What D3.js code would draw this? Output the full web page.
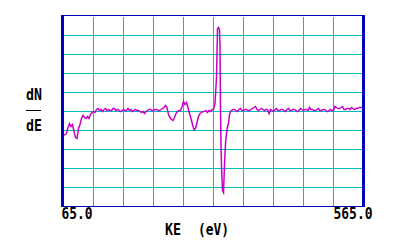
<!DOCTYPE html>
<html>
<head>
<meta charset="utf-8">
<script src="https://cdn.jsdelivr.net/npm/d3@7"></script>
<style>
  body { margin: 0; background: #fff; }
  svg { display: block; }
  text { font-family: "DejaVu Sans Mono", monospace; font-weight: bold; fill: #000; }
</style>
</head>
<body>
<svg id="chart"></svg>
<script>
const width = 400
const height = 240

// kinetic energy (eV) and dN/dE signal (arbitrary units)
const energy = [
  65, 67.5, 70, 72.5, 75, 77.5, 80, 82.5, 85, 87.5, 90, 92.5, 95, 97.5, 100, 102.5,
  105, 107.5, 110, 112.5, 115, 117.5, 120, 122.5, 125, 127.5, 130, 132.5, 135, 137.5,
  140, 142.5, 145, 147.5, 150, 152.5, 155, 157.5, 160, 162.5, 165, 167.5, 170, 172.5,
  175, 177.5, 180, 182.5, 185, 187.5, 190, 192.5, 195, 197.5, 200, 202.5, 205, 207.5,
  210, 212.5, 215, 217.5, 220, 222.5, 225, 227.5, 230, 232.5, 235, 237.5, 240, 242.5,
  245, 247.5, 250, 252.5, 255, 257.5, 260, 262.5, 265, 267.5, 270, 272.5, 275, 277.5,
  280, 282.5, 285, 287.5, 290, 292.5, 295, 297.5, 300, 302.5, 305, 307.5, 310, 312.5,
  315, 317.5, 320, 321.7, 323.3, 325, 325.8, 326.7, 327.5, 328.3, 330, 331.7, 333.3,
  335, 336.7, 338.3, 340, 341.7, 343.3, 345, 347.5, 350, 352.5, 355, 357.5, 360, 362.5,
  365, 367.5, 370, 372.5, 375, 377.5, 380, 382.5, 385, 387.5, 390, 392.5, 395, 397.5,
  400, 402.5, 405, 407.5, 410, 412.5, 415, 417.5, 420, 422.5, 425, 427.5, 430, 432.5,
  435, 437.5, 440, 442.5, 445, 447.5, 450, 452.5, 455, 457.5, 460, 462.5, 465, 467.5,
  470, 472.5, 475, 477.5, 480, 482.5, 485, 487.5, 490, 492.5, 495, 497.5, 500, 502.5,
  505, 507.5, 510, 512.5, 515, 517.5, 520, 522.5, 525, 527.5, 530, 532.5, 535, 537.5,
  540, 542.5, 545, 547.5, 550, 552.5, 555, 557.5, 560, 562.5, 565
]
const signal = [
  -25, -24, -23, -17, -13, -16, -14, -21, -27, -28, -18, -14, -8, -5, -7, -8,
  -6, -8, -4, -2, -1, -2, 1, 2, 0, 1, -1, 1, 2, 0,
  1, 0, 0, 2, 2, 0, 1, 0, -1, 0, 1, 0, 0, 2,
  0, 1, -1, 0, 1, 0, 0, -1, -2, -1, -3, -1, 0, 1,
  1, 0, 0, 1, 1, 0, 0, 1, 2, 3, 5, 3, -4, -7,
  -9, -10, -7, -3, -1, 0, 0, 4, 9, 6, 8, 3, -3, -8,
  -14, -19, -18, -12, -6, -3, -2, -1, -1, 0, -2, 0, -1, 1,
  1, 7, 33, 82, 83, 81, 65, 0, -33, -55, -80, -82, -55,
  -33, -23, -16, -13, -4, -1, 0, 1, 1, 0, -1, 1, 2, 0,
  0, 1, 1, 0, 0, 1, 2, 3, 4, 1, 0, 1, 2, 1,
  0, 1, 1, -3, 1, 0, -1, 1, 2, 0, 0, 1, 1, 0,
  -1, 1, 2, 0, 0, 1, 1, 0, -1, 0, 2, 1, 0, 1,
  1, 0, 3, 1, 1, 0, 0, 1, 2, 0, 0, 1, 1, 0,
  -1, 0, 1, 0, 0, 4, 3, 2, 2, 3, 4, 1, 1, 2,
  2, 1, 3, 2, 1, 2, 2, 3, 3, 3, 3
]
const xTickLabels = ['65.0', '565.0']
const xDomain = [65, 565]
const yDomain = [-96, 94]
const divisions = d3.range(11)

const data = energy.map((e, i) => ({ e, v: signal[i] }))

const svg = d3.select('#chart')
  .attr('width', width)
  .attr('height', height)

const x = d3.scaleLinear().domain(xDomain).range([63.5, 363.5])
const y = d3.scaleLinear().domain(yDomain).range([206.5, 16.5])
const gx = d3.scaleLinear().domain([0, 10]).range(x.range())
const gy = d3.scaleLinear().domain([0, 10]).range(y.range())

// grid
const grid = svg.append('g')
  .attr('stroke', '#00bcbc')
  .attr('stroke-width', 1)
  .attr('shape-rendering', 'crispEdges')

grid.selectAll('.gv')
  .data(divisions.slice(1, 10))
  .join('line')
  .classed('gv', true)
  .attr('x1', d => gx(d)).attr('x2', d => gx(d))
  .attr('y1', gy(0)).attr('y2', gy(10))

grid.selectAll('.gh')
  .data(divisions.slice(1, 10))
  .join('line')
  .classed('gh', true)
  .attr('x1', gx(0)).attr('x2', gx(10))
  .attr('y1', d => gy(d)).attr('y2', d => gy(d))

// trace
const line = d3.line()
  .x(d => x(d.e))
  .y(d => y(d.v))

svg.append('path')
  .datum(data)
  .attr('d', line)
  .attr('fill', 'none')
  .attr('stroke', '#c800c8')
  .attr('stroke-width', 1.5)

// frame
const frame = svg.append('g').attr('stroke', '#0000c0').attr('fill', 'none')
frame.append('line').attr('x1', 62).attr('x2', 364).attr('y1', 15.5).attr('y2', 15.5).attr('stroke-width', 1)
frame.append('line').attr('x1', 62).attr('x2', 364).attr('y1', 206.5).attr('y2', 206.5).attr('stroke-width', 1)
frame.append('line').attr('x1', 62.5).attr('x2', 62.5).attr('y1', 15).attr('y2', 207).attr('stroke-width', 3)
frame.append('line').attr('x1', 363.5).attr('x2', 363.5).attr('y1', 15).attr('y2', 207).attr('stroke-width', 3)

// x labels
svg.append('text')
  .attr('x', x(xDomain[0]) - 2).attr('y', 219)
  .attr('font-size', 15)
  .attr('textLength', 31).attr('lengthAdjust', 'spacingAndGlyphs')
  .text(xTickLabels[0])

svg.append('text')
  .attr('x', x(xDomain[1]) + 9).attr('y', 219)
  .attr('text-anchor', 'end')
  .attr('font-size', 15)
  .attr('textLength', 39).attr('lengthAdjust', 'spacingAndGlyphs')
  .text(xTickLabels[1])

svg.append('text')
  .attr('x', 165).attr('y', 235)
  .attr('font-size', 15)
  .attr('textLength', 16).attr('lengthAdjust', 'spacingAndGlyphs')
  .text('KE')

svg.append('text')
  .attr('x', 198).attr('y', 235)
  .attr('font-size', 15)
  .attr('textLength', 31).attr('lengthAdjust', 'spacingAndGlyphs')
  .text('(eV)')

// y label dN / dE
svg.append('text')
  .attr('x', 26).attr('y', 100)
  .attr('font-size', 15)
  .attr('textLength', 16).attr('lengthAdjust', 'spacingAndGlyphs')
  .text('dN')

svg.append('line')
  .attr('x1', 26).attr('x2', 41)
  .attr('y1', 110.5).attr('y2', 110.5)
  .attr('stroke', '#000')
  .attr('stroke-width', 1)

svg.append('text')
  .attr('x', 26).attr('y', 131)
  .attr('font-size', 15)
  .attr('textLength', 16).attr('lengthAdjust', 'spacingAndGlyphs')
  .text('dE')
</script>
</body>
</html>
